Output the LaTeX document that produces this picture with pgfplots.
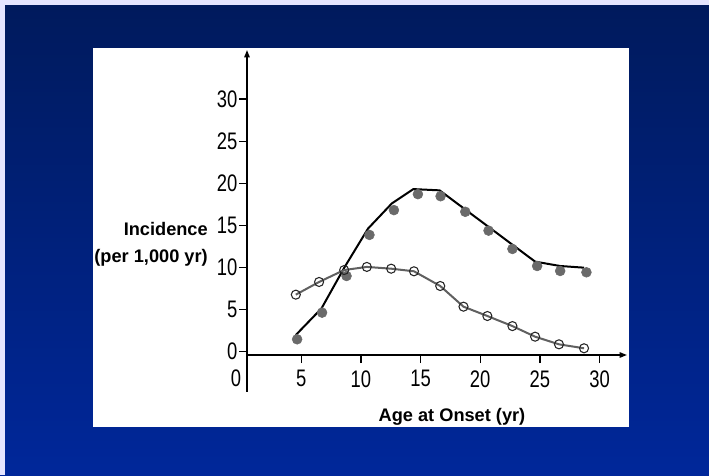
\documentclass[border=0pt]{standalone}
\usepackage{pgfplots}
\pgfplotsset{compat=1.18}
\usepackage{graphicx}
\usepackage{fontspec}
\setmainfont{Liberation Sans}
\usetikzlibrary{arrows.meta,backgrounds}
\definecolor{bgtop}{HTML}{001A5C}
\definecolor{bgbot}{HTML}{00279A}
\definecolor{dotgray}{HTML}{6A6A6A}
\definecolor{linegray}{HTML}{606060}
\begin{document}
\begin{tikzpicture}[x=0.75pt,y=0.75pt]
\begin{axis}[
  width=285pt, height=228.75pt, scale only axis,
  xmin=0.46, xmax=32.3, ymin=-0.44, ymax=35.85,
  axis lines=left,
  axis line style={line width=1.1pt,-{Triangle[length=5.5pt,width=4pt]}},
  xtick={5,10,...,30}, ytick={0,5,...,30},
  tick align=outside, major tick length=6pt,
  tick style={line width=1pt,black},
  /pgf/number format/assume math mode=true,
  ticklabel style={font=\fontsize{13.8}{14}\selectfont},
  xticklabel={\scalebox{1}[1.3]{\pgfmathprintnumber{\tick}}},
  yticklabel={\scalebox{1}[1.3]{\pgfmathprintnumber{\tick}}},
  yticklabel style={inner sep=1pt},
  xticklabel style={yshift=-2pt},
  clip=false,
]
\addplot[only marks, mark=*, mark size=3.7pt, dotgray, mark options={draw=dotgray,fill=dotgray}] coordinates {
(4.66,1.43) (6.75,4.6) (8.8,8.96) (10.72,13.85) (12.77,16.8) (14.78,18.7) (16.68,18.45)
(18.75,16.6) (20.7,14.36) (22.7,12.18) (24.77,10.15) (26.7,9.56) (28.9,9.4)};
\addplot[black, line width=1.5pt, mark=none] coordinates {
(4.55,1.94) (6.7,5.1) (8.63,10.0) (10.6,14.6) (12.6,17.6) (14.4,19.3) (16.6,19.15)
(24.6,10.67) (26.7,10.15) (28.7,9.95)};
\addplot[linegray, line width=1.5pt, mark=o, mark size=3.4pt,
  mark options={fill=white, draw=black!85, line width=0.8pt, solid}] coordinates {
(4.55,6.74) (6.5,8.25) (8.6,9.67) (10.5,10.04) (12.54,9.83) (14.45,9.52) (16.65,7.77)
(18.6,5.31) (20.6,4.2) (22.7,3.0) (24.6,1.74) (26.6,0.83) (28.7,0.36)};
\coordinate (O) at (axis cs:0.46,-0.44);
\end{axis}
\begin{scope}[shift={(O)}, xshift=-185.25pt, yshift=-90pt]
\draw[line width=1.1pt] (247,120) -- (247,83);
\node[font=\fontsize{13.8}{14}\selectfont] at (236,97) {\scalebox{1}[1.3]{0}};
\node[anchor=east, align=right, inner sep=0pt, font=\fontsize{13.65}{20.25}\selectfont\bfseries] at (208,230.5) {Incidence\\(per 1,000 yr)};
\node[font=\fontsize{13.65}{16}\selectfont\bfseries, inner sep=0pt] at (452,58) {Age at Onset (yr)};
\end{scope}
\begin{scope}[on background layer, shift={(O)}, xshift=-185.25pt, yshift=-90pt]
\shade[top color=bgtop,bottom color=bgbot] (0,0) rectangle (709,475);
\fill[white!90!blue] (0,0) rectangle (5,475);
\fill[white!90!blue] (0,470) rectangle (709,475);
\fill[white] (93,48) rectangle (629,427);
\end{scope}
\end{tikzpicture}
\end{document}
